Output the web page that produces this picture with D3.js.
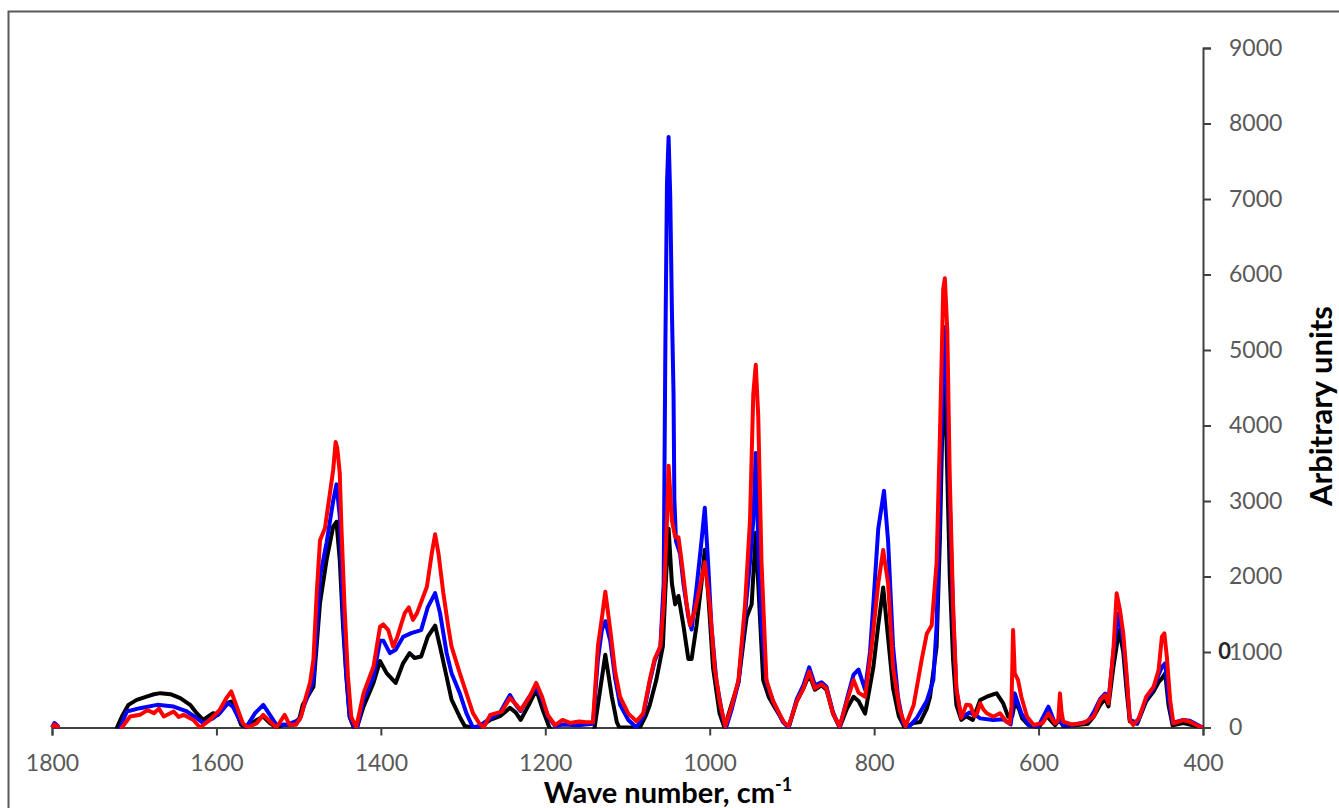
<!DOCTYPE html>
<html lang="en">
  <head>
    <meta charset="UTF-8" />
    <title>Raman spectra</title>
    <script src="https://d3js.org/d3.v7.min.js"></script>
    <style>
      body {
        margin: 0;
        background: #fff;
      }
      .tick text {
        font-family: Lato, "Open Sans", sans-serif;
        font-size: 23px;
        fill: #595959;
      }
      .axis-title {
        font-family: Lato, "Open Sans", sans-serif;
        font-weight: bold;
        fill: #000;
      }
      .line {
        fill: none;
        stroke-width: 4px;
        stroke-linejoin: round;
      }
    </style>
  </head>
  <body>
    <svg id="chart" width="1339" height="808"></svg>

    <script>
      const xTicks = [1800, 1600, 1400, 1200, 1000, 800, 600, 400];
      const yTicks = [0, 1000, 2000, 3000, 4000, 5000, 6000, 7000, 8000, 9000];

      // [wave number, intensity]
      const blackSeries = [
        [1800, -150], [1722, -150], [1721, 0], [1715, 146], [1707, 300], [1697, 366], [1685, 410],
        [1676, 440], [1668, 455], [1656, 441], [1644, 388], [1632, 300], [1624, 190], [1616, 100],
        [1610, 146], [1604, 190], [1598, 168], [1588, 322], [1582, 344], [1576, 212], [1570, 35],
        [1564, 0], [1551, 100], [1543, 146], [1535, 57], [1527, 0], [1519, 35], [1507, 35],
        [1499, 124], [1495, 300], [1482, 540], [1474, 1650], [1466, 2220], [1458, 2660],
        [1454, 2725], [1450, 2220], [1446, 1335], [1442, 670], [1438, 140], [1433, 0], [1429, 0],
        [1421, 280], [1409, 590], [1401, 880], [1393, 720], [1382, 590], [1373, 850], [1365, 985],
        [1359, 920], [1351, 940], [1343, 1200], [1334, 1350], [1328, 1070], [1320, 670],
        [1314, 370], [1304, 140], [1298, 20], [1290, 0], [1280, 0], [1267, 100], [1255, 150],
        [1243, 260], [1236, 200], [1230, 100], [1220, 300], [1211, 500], [1203, 230], [1195, 0],
        [1185, -100], [1145, -100], [1140, 0], [1133, 518], [1127, 963], [1119, 406], [1113, 72],
        [1110, 0], [1085, 0], [1078, 150], [1073, 295], [1065, 629], [1057, 1074], [1054, 1800],
        [1050, 2633], [1046, 1909], [1042, 1631], [1038, 1742], [1032, 1353], [1026, 907],
        [1022, 907], [1016, 1353], [1010, 1909], [1006, 2355], [1001, 1631], [996, 796],
        [988, 184], [982, 0], [975, 250], [965, 600], [957, 1300], [955, 1464], [949, 1631],
        [944, 2578], [941, 1909], [935, 629], [928, 400], [920, 250], [910, 72], [904, 0],
        [894, 351], [886, 518], [879, 700], [872, 500], [864, 560], [858, 500], [850, 184],
        [842, 0], [833, 250], [825, 406], [819, 351], [811, 184], [801, 796], [795, 1353],
        [789, 1854], [783, 1186], [777, 518], [770, 150], [763, 0], [752, 60], [744, 72],
        [736, 250], [732, 406], [724, 1074], [720, 2500], [717, 4000], [715, 4526], [712, 3800],
        [708, 2000], [704, 900], [700, 300], [694, 100], [688, 150], [680, 100], [671, 364],
        [663, 408], [655, 440], [651, 452], [643, 320], [637, 143], [632, 150], [629, 320],
        [624, 250], [620, 120], [612, 30], [600, 0], [590, 150], [580, 30], [575, 100], [570, 20],
        [555, 30], [540, 50], [533, 143], [525, 300], [519, 380], [515, 280], [509, 800],
        [502, 1291], [497, 1000], [493, 500], [489, 80], [480, 50], [469, 350], [460, 480],
        [454, 600], [450, 650], [446, 717], [442, 300], [437, 30], [424, 60], [416, 40],
        [404, 10], [400, 0]
      ];

      const blueSeries = [
        [1800, 0], [1797, 60], [1793, 20], [1790, -150], [1718, -150], [1717, 0], [1709, 212],
        [1693, 256], [1672, 300], [1652, 278], [1636, 212], [1624, 124], [1616, 57], [1604, 124],
        [1596, 190], [1586, 322], [1580, 278], [1572, 100], [1564, 0], [1553, 190], [1543, 300],
        [1535, 168], [1527, 35], [1515, 35], [1499, 100], [1493, 300], [1482, 620], [1474, 2000],
        [1466, 2450], [1458, 3000], [1454, 3220], [1450, 2800], [1446, 1500], [1442, 700],
        [1438, 150], [1432, 0], [1429, 0], [1421, 370], [1409, 670], [1401, 1150], [1397, 1150],
        [1389, 985], [1382, 1030], [1373, 1200], [1363, 1250], [1351, 1290], [1343, 1590],
        [1334, 1780], [1328, 1515], [1320, 985], [1314, 720], [1304, 455], [1296, 190], [1288, 0],
        [1280, 20], [1267, 120], [1255, 200], [1243, 430], [1236, 300], [1230, 220], [1220, 400],
        [1211, 540], [1204, 380], [1197, 150], [1188, 20], [1179, 40], [1160, 30], [1142, 50],
        [1136, 900], [1131, 1300], [1127, 1408], [1121, 1150], [1115, 650], [1109, 300],
        [1099, 100], [1089, 0], [1081, 150], [1073, 600], [1067, 880], [1060, 1074], [1056, 1909],
        [1054, 4971], [1052, 7198], [1050, 7822], [1048, 7031], [1046, 5528], [1044, 4415],
        [1043, 3023], [1041, 2466], [1036, 2299], [1032, 1909], [1026, 1464], [1022, 1297],
        [1016, 1854], [1010, 2466], [1006, 2912], [1002, 2188], [998, 1353], [992, 629],
        [984, 128], [980, 0], [973, 250], [965, 600], [957, 1500], [951, 2188], [947, 2744],
        [944, 3635], [941, 2466], [937, 1353], [931, 600], [923, 350], [911, 72], [904, 0],
        [894, 380], [886, 560], [879, 796], [872, 560], [864, 600], [858, 540], [850, 200],
        [842, 0], [833, 380], [825, 700], [819, 768], [811, 500], [805, 1000], [801, 1631],
        [795, 2633], [788, 3134], [783, 2466], [777, 1074], [771, 406], [765, 60], [757, 17],
        [748, 128], [736, 351], [728, 629], [724, 1353], [720, 3000], [717, 4500], [715, 5305],
        [712, 4600], [708, 3000], [704, 1500], [700, 500], [694, 130], [684, 200], [675, 150],
        [671, 121], [655, 99], [643, 110], [634, 40], [629, 452], [621, 188], [612, 33],
        [600, 20], [588, 276], [580, 55], [574, 100], [570, 30], [555, 40], [540, 80], [533, 200],
        [525, 380], [519, 450], [515, 350], [509, 1000], [503, 1512], [497, 1150], [493, 650],
        [489, 100], [480, 60], [469, 380], [460, 520], [454, 700], [450, 800], [446, 850],
        [442, 400], [437, 60], [424, 100], [416, 90], [404, 20], [400, 0]
      ];

      const redSeries = [
        [1800, 0], [1797, 40], [1793, 10], [1790, -150], [1716, -150], [1715, 0], [1705, 146],
        [1693, 168], [1684, 230], [1676, 190], [1670, 250], [1664, 146], [1652, 212], [1646, 140],
        [1640, 168], [1628, 100], [1620, 0], [1608, 100], [1596, 234], [1588, 388], [1582, 477],
        [1576, 300], [1568, 57], [1562, 0], [1551, 57], [1543, 168], [1535, 80], [1527, 0],
        [1517, 168], [1511, 35], [1503, 35], [1497, 146], [1491, 410], [1486, 600], [1482, 900],
        [1478, 1780], [1474, 2480], [1468, 2640], [1462, 3100], [1458, 3410], [1455, 3780],
        [1453, 3700], [1450, 3370], [1448, 2660], [1444, 1555], [1440, 670], [1436, 140],
        [1430, 0], [1421, 455], [1409, 805], [1401, 1335], [1397, 1365], [1391, 1290],
        [1385, 1070], [1380, 1200], [1371, 1515], [1366, 1590], [1361, 1425], [1356, 1515],
        [1344, 1865], [1338, 2310], [1334, 2560], [1330, 2310], [1324, 1780], [1318, 1335],
        [1314, 1070], [1304, 720], [1296, 455], [1288, 190], [1280, 50], [1275, 0], [1267, 165],
        [1253, 210], [1243, 390], [1235, 300], [1230, 230], [1219, 410], [1211, 590], [1204, 410],
        [1197, 165], [1188, 30], [1179, 100], [1170, 60], [1159, 80], [1150, 70], [1142, 70],
        [1136, 1075], [1131, 1464], [1127, 1798], [1121, 1297], [1115, 740], [1109, 406],
        [1099, 184], [1089, 83], [1081, 184], [1073, 629], [1067, 907], [1060, 1074],
        [1056, 1631], [1052, 2744], [1050, 3468], [1046, 2744], [1042, 2520], [1038, 2520],
        [1034, 2188], [1028, 1631], [1024, 1353], [1018, 1548], [1012, 1854], [1006, 2188],
        [1000, 1631], [994, 796], [988, 351], [981, 17], [973, 295], [965, 629], [957, 1631],
        [951, 2744], [947, 4415], [944, 4804], [941, 4136], [937, 2188], [931, 629], [923, 351],
        [910, 72], [904, 17], [894, 351], [886, 518], [879, 740], [872, 518], [864, 573],
        [858, 518], [850, 184], [842, 17], [833, 351], [825, 629], [819, 462], [811, 406],
        [803, 1074], [795, 1909], [789, 2350], [783, 1909], [777, 796], [769, 239], [762, 17],
        [752, 295], [742, 907], [736, 1241], [730, 1353], [724, 2188], [720, 3858], [716, 5806],
        [714, 5950], [711, 5250], [708, 3301], [704, 1631], [700, 518], [694, 128], [688, 300],
        [683, 295], [678, 150], [675, 184], [671, 320], [667, 239], [663, 188], [655, 143],
        [647, 188], [639, 77], [635, 55], [633, 276], [631, 1291], [629, 717], [625, 630],
        [621, 408], [614, 143], [606, 33], [595, 60], [588, 188], [580, 55], [576, 100],
        [574, 452], [572, 200], [570, 77], [560, 40], [545, 60], [533, 143], [525, 364],
        [519, 430], [515, 320], [509, 1026], [505, 1777], [501, 1556], [497, 1247], [493, 717],
        [489, 99], [485, 33], [478, 120], [469, 408], [460, 541], [454, 762], [450, 1203],
        [447, 1247], [444, 938], [440, 364], [436, 55], [424, 99], [416, 77], [404, 11], [400, 0]
      ];

      const svg = d3.select("#chart");
      const margin = { top: 48, right: 136, bottom: 80.5, left: 52 };
      const width = +svg.attr("width") - margin.left - margin.right;
      const height = +svg.attr("height") - margin.top - margin.bottom;

      // outer frame (only top and left edges fall inside the picture)
      svg
        .append("rect")
        .attr("x", 8.5)
        .attr("y", 11.5)
        .attr("width", 1400)
        .attr("height", 900)
        .attr("fill", "none")
        .attr("stroke", "#595959")
        .attr("stroke-width", 2);

      const g = svg
        .append("g")
        .attr("transform", `translate(${margin.left},${margin.top})`);

      const x = d3.scaleLinear().domain([1800, 400]).range([0, width]);
      const y = d3.scaleLinear().domain([0, 9000]).range([height, 0]);

      g.append("clipPath")
        .attr("id", "plotClip")
        .append("rect")
        .attr("x", -4)
        .attr("y", -10)
        .attr("width", width + 8)
        .attr("height", height + 11);

      // Axes
      const fmt = d3.format("d");
      const xAxis = g
        .append("g")
        .attr("transform", `translate(0,${height})`)
        .call(d3.axisBottom(x).tickValues(xTicks).tickFormat(fmt).tickSize(8).tickPadding(19));
      const yAxis = g
        .append("g")
        .attr("transform", `translate(${width},0)`)
        .call(d3.axisRight(y).tickValues(yTicks).tickFormat(fmt).tickSize(8).tickPadding(18));

      [xAxis, yAxis].forEach((a) => {
        a.select(".domain").attr("stroke", "#404040").attr("stroke-width", 2);
        a.selectAll(".tick line").attr("stroke", "#404040").attr("stroke-width", 2);
      });
      yAxis.selectAll(".tick text").attr("text-anchor", "start");

      // stray black "0" in front of the 1000 label
      g.append("text")
        .attr("x", width + 28)
        .attr("y", y(1000))
        .attr("dy", "0.32em")
        .attr("text-anchor", "end")
        .style("font-family", "Lato, sans-serif")
        .style("font-size", "22px")
        .style("font-weight", "bold")
        .attr("fill", "#262626")
        .text("0");

      const line = d3
        .line()
        .x((d) => x(d[0]))
        .y((d) => y(d[1]));

      const lines = g.append("g").attr("clip-path", "url(#plotClip)");
      lines.append("path").datum(blackSeries).attr("class", "line").attr("stroke", "#000000").attr("d", line);
      lines.append("path").datum(blueSeries).attr("class", "line").attr("stroke", "#0000ff").attr("d", line);
      lines.append("path").datum(redSeries).attr("class", "line").attr("stroke", "#ff0000").attr("d", line);

      // Axis titles
      const xTitle = svg
        .append("text")
        .attr("class", "axis-title")
        .attr("x", 668)
        .attr("y", 803)
        .attr("text-anchor", "middle")
        .style("font-size", "29px");
      xTitle.append("tspan").text("Wave number, cm");
      xTitle
        .append("tspan")
        .attr("dy", -12)
        .style("font-size", "18px")
        .text("-1");

      svg
        .append("text")
        .attr("class", "axis-title")
        .attr("transform", "translate(1332,406) rotate(-90)")
        .attr("text-anchor", "middle")
        .style("font-size", "31px")
        .text("Arbitrary units");
    </script>
  </body>
</html>
